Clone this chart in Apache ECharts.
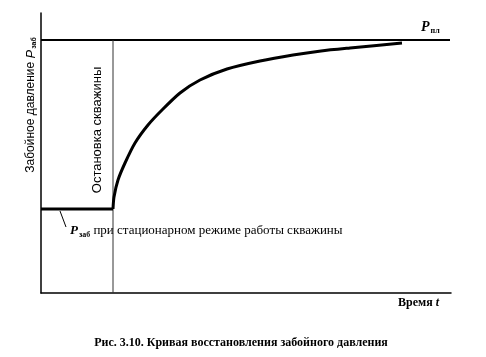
<!DOCTYPE html>
<html><head><meta charset="utf-8">
<script src="https://cdn.jsdelivr.net/npm/echarts@6/dist/echarts.min.js"></script>
<style>html,body{margin:0;padding:0;background:#fff}#c{width:486px;height:357px}</style>
</head><body><div id="c"></div>
<script>
// axis extents (abstract units: time, pressure)
const xMax = 410, yMax = 280;
const pPl = 253;          // reservoir pressure level
const pStat = 84;         // steady-state bottomhole pressure
const tStop = 72;         // well shut-in time
const tPlEnd = 409;
// recovery curve (time, pressure)
const curveT = [72, 73, 77, 84, 94, 107, 121, 139, 159, 186, 219, 252, 280, 309, 361];
const curveP = [84, 96, 113, 130, 150, 168, 183, 200, 213, 224, 232, 238, 242, 245, 250];
// leader line for bottom label
const leaderT = [19, 25];
const leaderP = [82, 66];

const curve = curveT.map((t, i) => [t, curveP[i]]);
const chart = echarts.init(document.getElementById('c'));
const serif = '"Liberation Serif", "Times New Roman", serif';
const sans = '"Liberation Sans", Arial, sans-serif';
chart.setOption({
  animation: false,
  grid: {left: 41, top: 13, width: 410, height: 280},
  xAxis: {type: 'value', min: 0, max: xMax, axisLine: {show: true, lineStyle: {color: '#000', width: 1.5}},
          axisTick: {show: false}, axisLabel: {show: false}, splitLine: {show: false}},
  yAxis: {type: 'value', min: 0, max: yMax, axisLine: {show: true, lineStyle: {color: '#000', width: 1.5}},
          axisTick: {show: false}, axisLabel: {show: false}, splitLine: {show: false}},
  series: [
    {type: 'line', data: [[0, pPl], [tPlEnd, pPl]], symbol: 'none', lineStyle: {color: '#000', width: 2}},
    {type: 'line', data: [[tStop, 0], [tStop, pPl]], symbol: 'none', lineStyle: {color: '#333', width: 1}},
    {type: 'line', data: [[0, pStat], [tStop, pStat]], symbol: 'none', lineStyle: {color: '#000', width: 3}},
    {type: 'line', data: curve, symbol: 'none', smooth: 0.25, lineStyle: {color: '#000', width: 3}},
    {type: 'line', data: leaderT.map((t, i) => [t, leaderP[i]]), symbol: 'none', lineStyle: {color: '#000', width: 1}}
  ],
  graphic: [
    {type: 'text', x: 31, y: 105, rotation: Math.PI / 2,
     style: {text: 'Забойное давление {i|P}{s|заб}', font: '12px ' + sans, fill: '#000', align: 'center', verticalAlign: 'middle',
       rich: {i: {font: 'italic 13px ' + sans, fill: '#000'}, s: {font: 'bold 7px ' + sans, fill: '#000', padding: [7, 0, 0, 1]}}}},
    {type: 'text', x: 97, y: 130, rotation: Math.PI / 2,
     style: {text: 'Остановка скважины', font: '13px ' + sans, fill: '#000', align: 'center', verticalAlign: 'middle'}},
    {type: 'text', x: 421, y: 27,
     style: {text: '{i|P}{s|пл}', fill: '#000', verticalAlign: 'middle',
       rich: {i: {font: 'italic bold 14px ' + serif, fill: '#000'}, s: {font: 'bold 8px ' + serif, fill: '#000', padding: [8, 0, 0, 1]}}}},
    {type: 'text', x: 70, y: 231,
     style: {text: '{i|P}{s|заб} при стационарном режиме работы скважины', font: '13px ' + serif, fill: '#000', verticalAlign: 'middle',
       rich: {i: {font: 'italic bold 13px ' + serif, fill: '#000'}, s: {font: 'bold 8px ' + serif, fill: '#000', padding: [7, 0, 0, 1]}}}},
    {type: 'text', x: 398, y: 303,
     style: {text: 'Время {i|t}', font: 'bold 12px ' + serif, fill: '#000', verticalAlign: 'middle',
       rich: {i: {font: 'italic bold 12px ' + serif, fill: '#000'}}}},
    {type: 'text', x: 241, y: 343,
     style: {text: 'Рис. 3.10. Кривая восстановления забойного давления', font: 'bold 12px ' + serif, fill: '#000', align: 'center', verticalAlign: 'middle'}}
  ]
});
</script></body></html>
